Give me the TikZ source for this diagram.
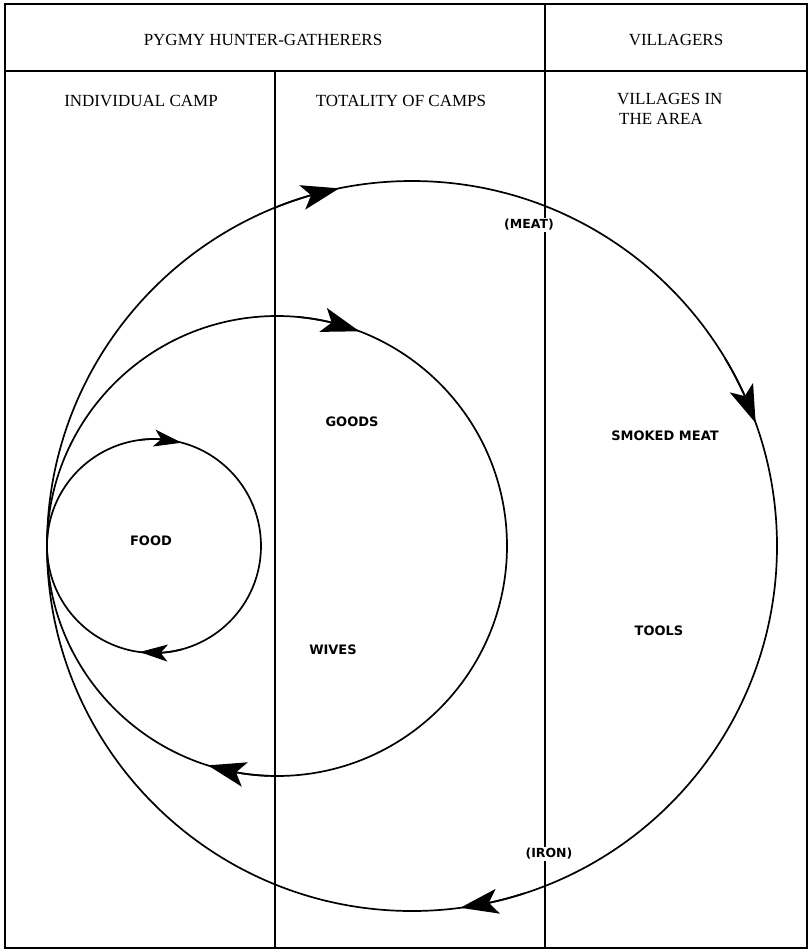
\documentclass[tikz,border=0pt]{standalone}
\usepackage{fontspec}
\setmainfont{Liberation Serif}
\newfontfamily\lblfont{DejaVu Sans}
\usetikzlibrary{arrows.meta,bending}
\tikzset{
  frameline/.style={line width=2.4pt},
  ring/.style={line width=1.7pt},
  arr/.style={line width=1.7pt,-{Stealth[length=38pt,width=25pt,inset=9pt]}},
  sarr/.style={line width=1.7pt,-{Stealth[length=28pt,width=17pt,inset=7pt]}},
  head/.style={font=\fontsize{17}{20}\selectfont},
  lbl/.style={font=\lblfont\bfseries\fontsize{13}{16}\selectfont},
  plbl/.style={font=\lblfont\bfseries\fontsize{12.5}{14}\selectfont, fill=white, inner sep=1.5pt}
}
\begin{document}
\begin{tikzpicture}[x=1pt,y=-1pt]
\useasboundingbox (0,0) rectangle (809,951);
% frame
\coordinate (tl) at (5,4);
\coordinate (br) at (807,948);
\draw[frameline] (tl) rectangle (br);
\coordinate (hl) at (5,71);
\coordinate (hr) at (807,71);
\draw[frameline] (hl) -- (hr);
\coordinate (v1t) at (545,4);
\coordinate (v1b) at (545,948);
\draw[frameline] (v1t) -- (v1b);
\coordinate (v2t) at (275,71);
\coordinate (v2b) at (275,948);
\draw[frameline] (v2t) -- (v2b);
% circles
\coordinate (cs) at (154,546);
\coordinate (cm) at (277,546);
\coordinate (cl) at (412,546);
\draw[ring] (cs) circle[radius=107];
\draw[ring] (cm) circle[radius=230];
\draw[ring] (cl) circle[radius=365];
% arrowheads
\draw[arr] (cl) ++(248:365) arc[start angle=248, end angle=258.5, radius=365];
\draw[arr] (cl) ++(329:365) arc[start angle=329, end angle=340.3, radius=365];
\draw[arr] (cl) ++(72:365) arc[start angle=72, end angle=82.4, radius=365];
\draw[arr] (cm) ++(275:230) arc[start angle=275, end angle=291, radius=230];
\draw[arr] (cm) ++(92:230) arc[start angle=92, end angle=107.5, radius=230];
\draw[sarr] (cs) ++(262:107) arc[start angle=262, end angle=285.1, radius=107];
\draw[sarr] (cs) ++(75:107) arc[start angle=75, end angle=97.7, radius=107];
% headers
\node[head] (pygmy) at (263,40) {PYGMY HUNTER-GATHERERS};
\node[head] (vill) at (676,40) {VILLAGERS};
\node[head] (indiv) at (141,101) {INDIVIDUAL CAMP};
\node[head] (total) at (401,101) {TOTALITY OF CAMPS};
\node[head, align=left, anchor=north west, inner sep=0pt] (area) at (617,93) {VILLAGES IN\\\hspace{2pt}THE AREA};
% labels
\node[plbl] (meat) at (529,225) {(MEAT)};
\node[plbl] (iron) at (549,854) {(IRON)};
\node[lbl] (goods) at (352,422) {GOODS};
\node[lbl] (smoked) at (665,436) {SMOKED MEAT};
\node[lbl] (food) at (151,541) {FOOD};
\node[lbl] (tools) at (659,631) {TOOLS};
\node[lbl] (wives) at (333,650) {WIVES};
\end{tikzpicture}
\end{document}
